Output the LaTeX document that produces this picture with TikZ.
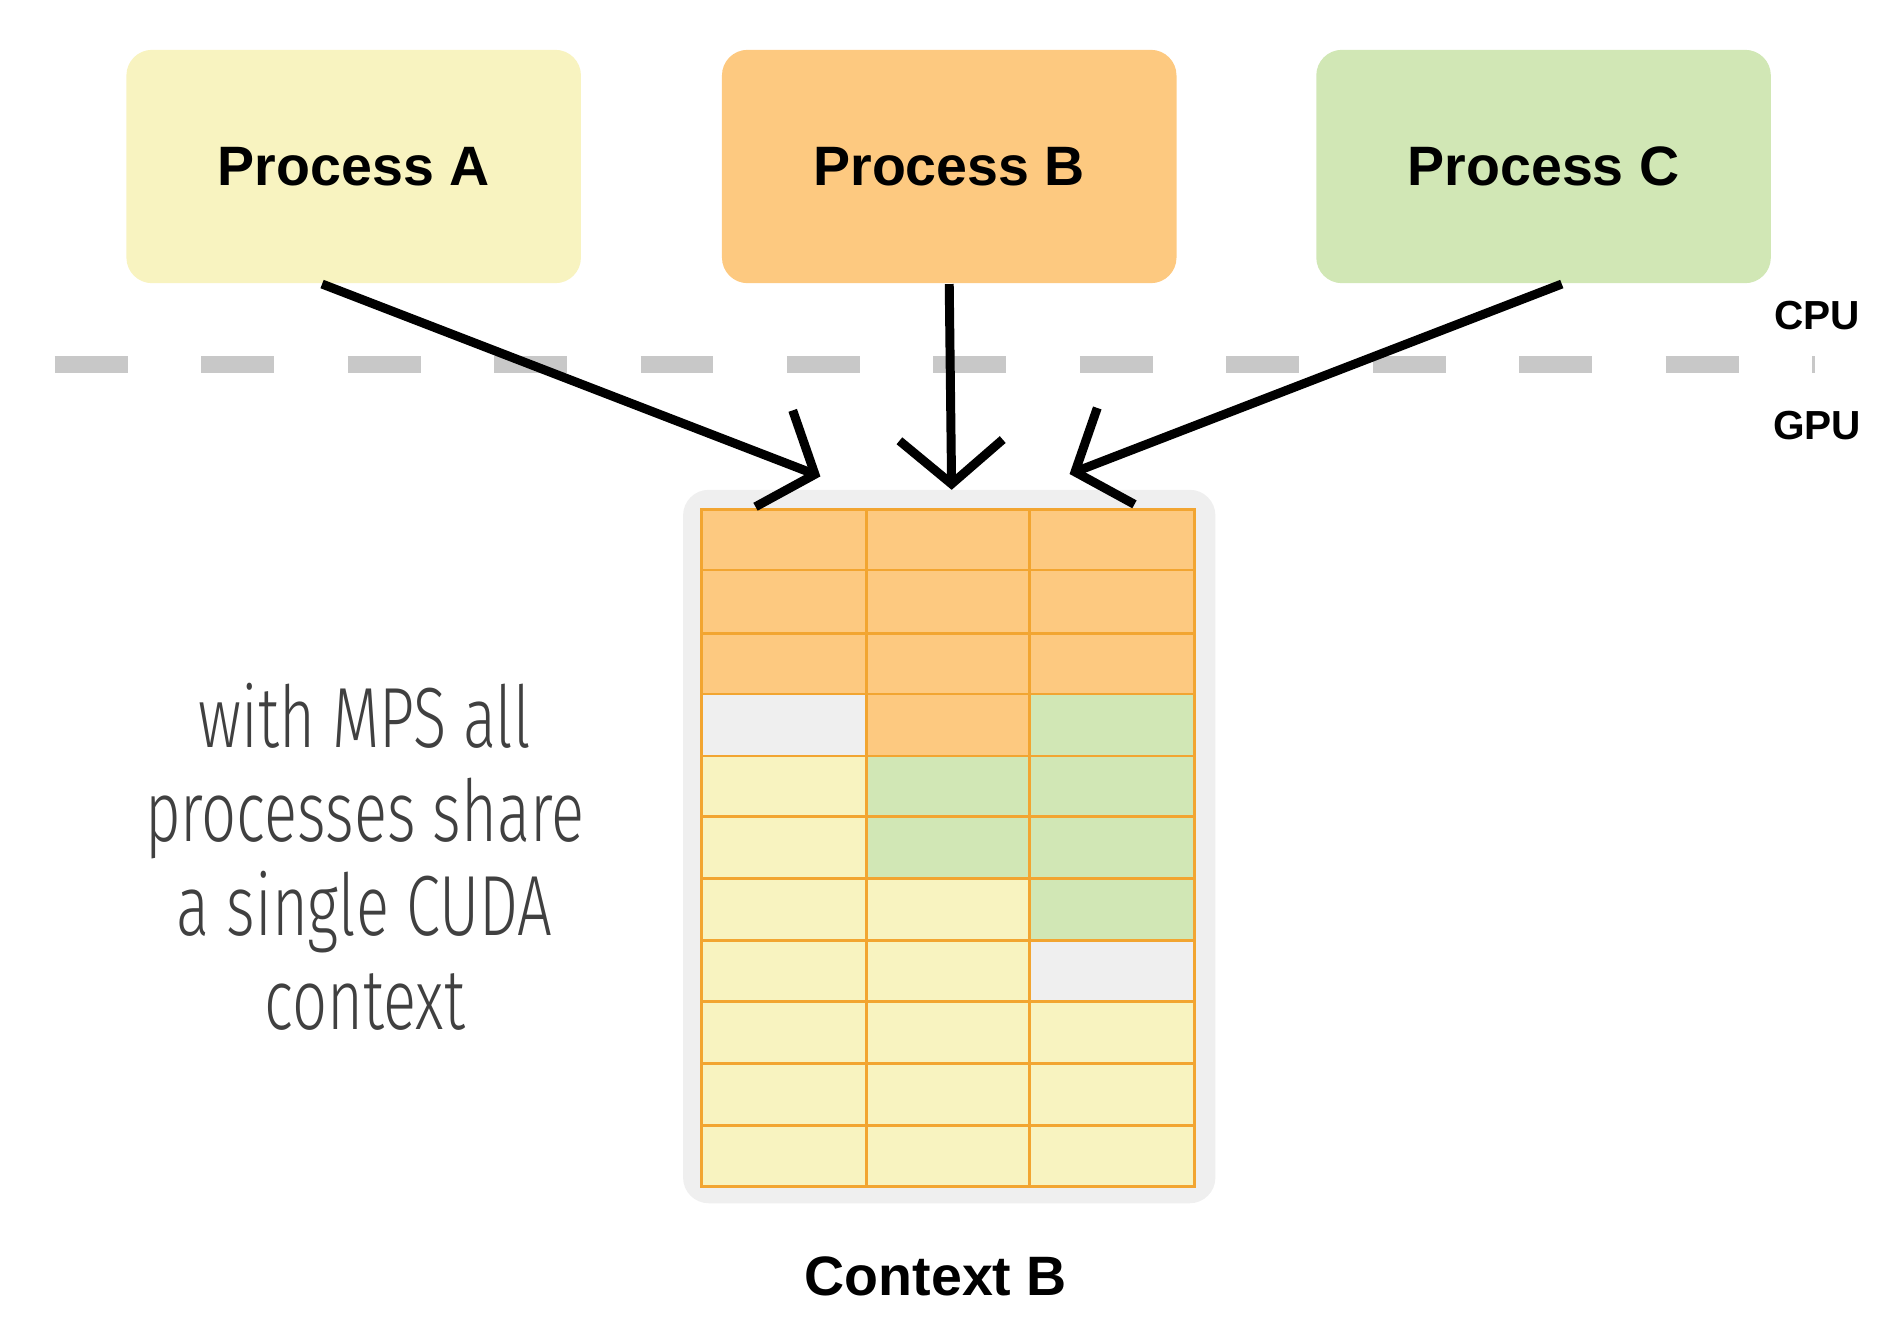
\documentclass[tikz,border=0pt]{standalone}
\usepackage{fontspec}
\setmainfont{Liberation Sans}
\newfontfamily\handfont[FakeStretch=0.72]{Fira Sans Light}
\usetikzlibrary{arrows.meta, positioning, calc}
\definecolor{procA}{HTML}{F8F3C0}
\definecolor{procB}{HTML}{FDC980}
\definecolor{procC}{HTML}{D1E7B5}
\definecolor{cellE}{HTML}{EFEFEF}
\definecolor{gridline}{HTML}{F2A531}
\definecolor{dashgray}{HTML}{C8C8C8}
\begin{document}
\begin{tikzpicture}[>=Stealth]
        \tikzstyle{proc}=[rectangle,rounded corners=6pt,minimum width=3.74cm,minimum height=1.92cm,font=\fontsize{13}{15}\selectfont\bfseries]
        \tikzstyle{flow}=[line width=2.1pt,-{Straight Barb[length=3.6mm,width=8.5mm,line width=2.1pt]}]
        \tikzstyle{cell}=[draw=gridline,line width=0.6pt]
        \useasboundingbox (0,0) rectangle (15.6,-11.03);
        \node[proc,fill=procA] (pa) at (2.91,-1.37) {Process A};
        \node[proc,fill=procB] (pb) at (7.81,-1.37) {Process B};
        \node[proc,fill=procC] (pc) at (12.70,-1.37) {Process C};
        % cpu / gpu border
        \draw[dashgray,line width=4pt,dash pattern=on 0.6cm off 0.605cm] (0.45,-3.0) -- (14.75,-3.0);
        \draw[dashgray,line width=0.6pt] (14.92,-2.93) -- (14.92,-3.07);
        \node[font=\fontsize{9.5}{11}\selectfont\bfseries] (cpu) at (14.95,-2.6) {CPU};
        \node[font=\fontsize{9.5}{11}\selectfont\bfseries] (gpu) at (14.95,-3.5) {GPU};
        % shared context
        \node[rectangle,rounded corners=6pt,fill=cellE,minimum width=4.38cm,minimum height=5.87cm] (ctx) at (7.81,-6.965) {};
        \foreach \yt/\yb/\ca/\cb/\cc in {4.19/4.69/procB/procB/procB,4.69/5.21/procB/procB/procB,
                5.21/5.71/procB/procB/procB,5.71/6.22/cellE/procB/procC,6.22/6.72/procA/procC/procC,
                6.72/7.23/procA/procC/procC,7.23/7.74/procA/procA/procC,7.74/8.24/procA/procA/cellE,
                8.24/8.75/procA/procA/procA,8.75/9.26/procA/procA/procA,9.26/9.76/procA/procA/procA}{
            \draw[cell,fill=\ca] (5.77,-\yt) rectangle (7.13,-\yb);
            \draw[cell,fill=\cb] (7.13,-\yt) rectangle (8.47,-\yb);
            \draw[cell,fill=\cc] (8.47,-\yt) rectangle (9.83,-\yb);
        }
        \node[font=\fontsize{13}{15}\selectfont\bfseries] (ctxlabel) at (7.70,-10.5) {Context B};
        \node[font=\handfont\fontsize{20}{24}\selectfont,text=black!75,align=center] (note) at (3.0,-7.05)
            {with MPS all\\[-2pt]processes share\\[-2pt]a single CUDA\\[-2pt]context};
        % arrows
        \coordinate (ea) at (6.75,-3.92);
        \coordinate (eb) at (7.83,-4.03);
        \coordinate (ec) at (8.80,-3.90);
        \draw[flow] ([xshift=-0.26cm]pa.south) -- (ea);
        \draw[flow] (pb.south) -- (eb);
        \draw[flow] ([xshift=0.15cm]pc.south) -- (ec);
    \end{tikzpicture}
\end{document}
